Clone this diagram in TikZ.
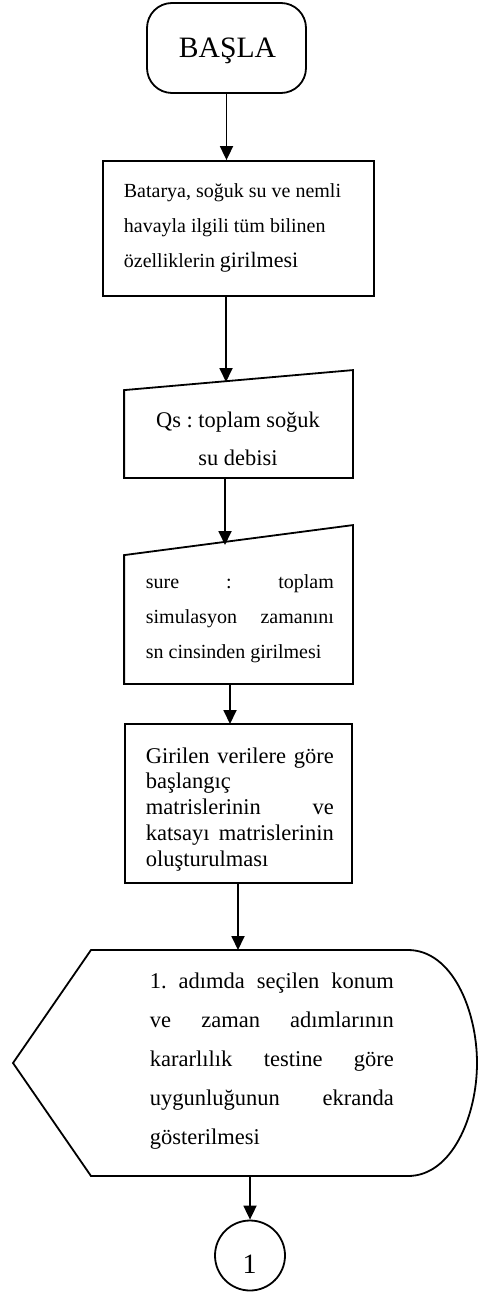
\documentclass[tikz,border=0pt]{standalone}
\usepackage{fontspec}
\setmainfont{Liberation Serif}
\frenchspacing
\usetikzlibrary{arrows.meta,calc}
\newcommand\jline[2]{\leavevmode\hbox to #1{#2}}
\begin{document}
\begin{tikzpicture}[x=1pt,y=-1pt,line width=1.8pt,
  arr/.style={-{Triangle[width=13pt,length=14pt]}},
  txt/.style={inner sep=0pt, anchor=base west, align=flush left}]
\useasboundingbox (0,0) rectangle (478,1292);
\fill[white] (0,0) rectangle (478,1292);

% start terminal
\node[draw, rounded corners=25pt, minimum width=159pt, minimum height=90pt, inner sep=0pt] (start) at (226.5,48) {};
\node[inner sep=0pt, anchor=base, font=\fontsize{29.6}{30}\selectfont] (startt) at (227.5,58) {BAŞLA};

% box 1
\node[draw, minimum width=271pt, minimum height=135pt, inner sep=0pt] (box1) at (238.5,228.5) {};
\node[txt, text width=240pt, font=\fontsize{20}{35}\selectfont] (box1t) at (123,197)
  {Batarya, soğuk su ve nemli\\havayla ilgili tüm bilinen\\özelliklerin {\fontsize{22}{35}\selectfont girilmesi}};

% manual input 1
\node[minimum width=227pt, minimum height=106pt, inner sep=0pt] (q1) at (238.5,424) {};
\draw (q1.south west) -- (q1.south east) -- (q1.north east) -- ($(q1.north west)+(0,20)$) -- cycle;
\node[inner sep=0pt, anchor=base, text width=220pt, align=flush center, font=\fontsize{22.4}{38}\selectfont] (q1t) at (238,427)
  {Qs : toplam soğuk\\su debisi};

% manual input 2
\node[minimum width=227pt, minimum height=157pt, inner sep=0pt] (q2) at (238.5,604.5) {};
\draw (q2.south west) -- (q2.south east) -- (q2.north east) -- ($(q2.north west)+(0,30)$) -- cycle;
\node[txt, text width=188pt, font=\fontsize{20}{35}\selectfont] (q2t) at (145,588)
  {\jline{188pt}{sure\hfill:\hfill toplam}\\\jline{188pt}{simulasyon\hfill zamanını}\\sn cinsinden girilmesi};

% box 3
\node[draw, minimum width=227pt, minimum height=159pt, inner sep=0pt] (box3) at (238.5,803.5) {};
\node[txt, text width=188pt, font=\fontsize{22.5}{25.8}\selectfont] (box3t) at (145,763)
  {\jline{188pt}{Girilen\hfill verilere\hfill göre}\\başlangıç\\\jline{188pt}{matrislerinin\hfill ve}\\\jline{188pt}{katsayı\hfill matrislerinin}\\oluşturulması};

% display
\node[minimum width=464pt, minimum height=226pt, inner sep=0pt] (disp) at (245,1063) {};
\draw (91,950) -- (408,950) .. controls (452,950) and (477,1010) .. (477,1063)
  .. controls (477,1116) and (452,1176) .. (408,1176) -- (91,1176) -- (13,1063) -- cycle;
\node[txt, text width=244pt, font=\fontsize{22.5}{39}\selectfont] (dispt) at (149,988)
  {\jline{244pt}{1.\hfill adımda\hfill seçilen\hfill konum}\\\jline{244pt}{ve\hfill zaman\hfill adımlarının}\\\jline{244pt}{kararlılık\hfill testine\hfill göre}\\\jline{244pt}{uygunluğunun\hfill ekranda}\\gösterilmesi};

% connector circle
\node[draw, circle, minimum size=70pt, inner sep=0pt] (c1) at (250,1255.5) {};
\node[inner sep=0pt, anchor=base, font=\fontsize{28}{28}\selectfont] (c1t) at (249.5,1273) {1};

% connectors
\coordinate (q1in) at (226,382);
\coordinate (q2in) at (225,545);
\coordinate (b3in) at (230,724);
\coordinate (dspin) at (238,950);
\draw[arr] (start.south) -- (start.south |- box1.north);
\draw[arr] (box1.south -| q1in) -- (q1in);
\draw[arr] (q1.south -| q2in) -- (q2in);
\draw[arr] (q2.south -| b3in) -- (b3in);
\draw[arr] (box3.south -| dspin) -- (dspin);
\draw[arr] (disp.south -| c1) -- (c1.north);
\end{tikzpicture}
\end{document}
